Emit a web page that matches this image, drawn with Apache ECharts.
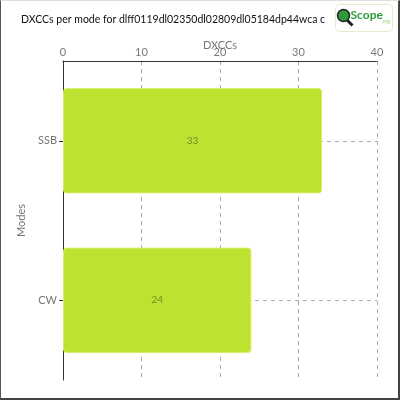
<!DOCTYPE html>
<html>
<head>
<meta charset="utf-8">
<script src="https://cdn.jsdelivr.net/npm/echarts@6/dist/echarts.min.js"></script>
<style>
html, body { margin: 0; padding: 0; background: #fff; }
#chart { width: 397px; height: 397px; border-left: 1px solid #555; border-top: 1px solid #ddd; border-right: 2px solid #444; border-bottom: 2px solid #444; }
</style>
</head>
<body>
<div id="chart"></div>
<script>
var myChart = echarts.init(document.getElementById('chart'));

var titleText = 'DXCCs per mode for dlff0119dl02350dl02809dl05184dp44wca c';
var modes = ['CW', 'SSB'];
var dxccs = [24, 33];
var xTicks = [0, 40, 10];   // min, max, interval

var font = 'Lato, "Open Sans", sans-serif';

var option = {
    animation: false,
    title: {
        text: titleText,
        left: 15,
        top: 8,
        textStyle: { fontFamily: font, fontSize: 10.5, fontWeight: 'normal', color: '#111', width: 320, overflow: 'truncate', ellipsis: '' }
    },
    grid: { left: 62, right: 21, top: 60, bottom: 18 },
    xAxis: {
        type: 'value',
        position: 'top',
        min: xTicks[0],
        max: xTicks[1],
        interval: xTicks[2],
        name: 'DXCCs',
        nameLocation: 'middle',
        nameGap: 10,
        nameMoveOverlap: false,
        nameTextStyle: { fontFamily: font, fontSize: 11, color: '#777' },
        axisLine: { show: true, lineStyle: { color: '#333', width: 1 } },
        axisTick: { show: false },
        axisLabel: { fontFamily: font, fontSize: 11, color: '#777', margin: 3 },
        splitLine: { show: true, lineStyle: { color: '#aaa', type: [4, 4] } }
    },
    yAxis: {
        type: 'category',
        data: modes,
        name: 'Modes',
        nameLocation: 'middle',
        nameGap: 24,
        nameTextStyle: { fontFamily: font, fontSize: 11, color: '#777' },
        axisLine: { show: true, lineStyle: { color: '#333', width: 1 } },
        axisTick: { show: true, alignWithLabel: true, length: 4, lineStyle: { color: '#333' } },
        axisLabel: { fontFamily: font, fontSize: 11, color: '#777', margin: 6 },
        splitLine: { show: false }
    },
    graphic: [{
        type: 'group',
        left: 334,
        top: 3,
        children: [
            { type: 'rect', z: 100, shape: { x: 0, y: 0, width: 57, height: 27, r: 4 }, style: { fill: '#fff', stroke: '#e6ecc8', lineWidth: 1 } },
            { type: 'line', z: 101, shape: { x1: 11, y1: 15, x2: 17, y2: 21 }, style: { stroke: '#222', lineWidth: 3 } },
            { type: 'circle', z: 102, shape: { cx: 8, cy: 11, r: 6 }, style: { fill: '#2e9a3a', stroke: '#222', lineWidth: 1.5 } },
            { type: 'text', z: 102, style: { x: 15, y: 5, text: 'Scope', fontFamily: font, fontSize: 12, fontWeight: 'bold', fill: '#2f9a3a' } },
            { type: 'text', z: 102, style: { x: 46, y: 14, text: '.org', fontFamily: font, fontSize: 5, fill: '#9fcf80' } }
        ]
    }],
    series: [{
        type: 'line',
        data: [],
        z: 1,
        silent: true,
        markLine: {
            z: 1,
            silent: true,
            symbol: 'none',
            label: { show: false },
            lineStyle: { color: '#aaa', type: [4, 4], width: 1 },
            data: modes.map(function (m) { return { yAxis: m }; })
        }
    }, {
        type: 'bar',
        data: dxccs,
        z: 3,
        barCategoryGap: '34%',
        itemStyle: { color: '#bde22f', borderColor: '#d4ef6a', borderWidth: 1, borderRadius: 3 },
        label: {
            show: true,
            position: 'inside',
            fontFamily: font,
            fontSize: 10,
            color: '#6f8c2c'
        }
    }]
};
myChart.setOption(option);
</script>
</body>
</html>
